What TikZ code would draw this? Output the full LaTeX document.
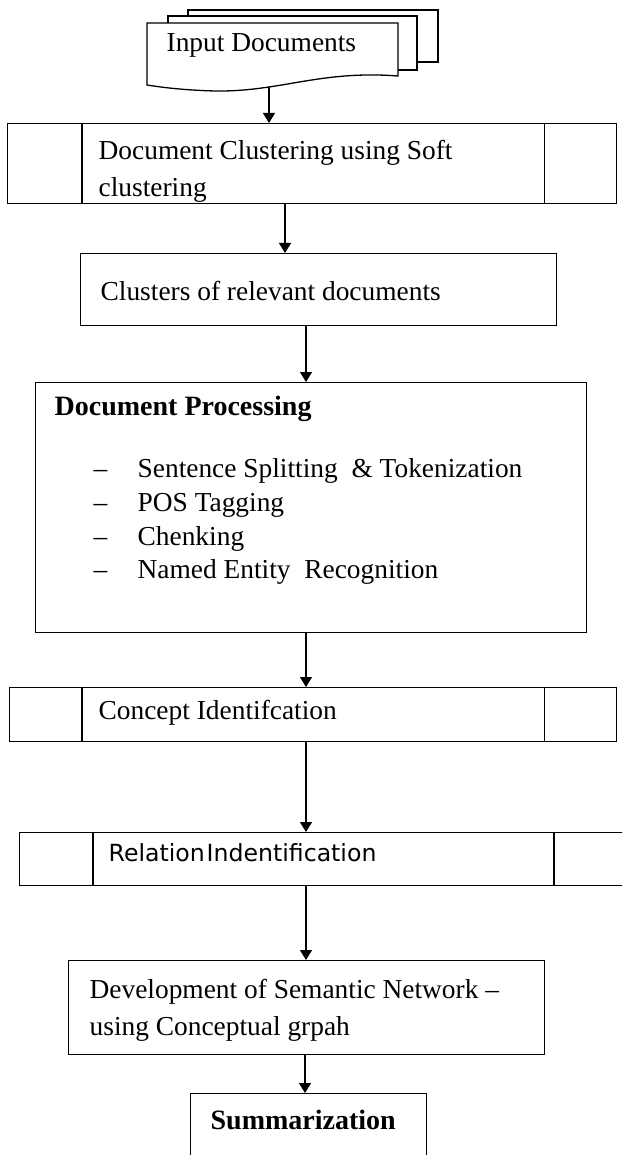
\documentclass[tikz,border=0pt]{standalone}
\usepackage{fontspec}
\setmainfont{Liberation Serif}
\newfontfamily\sansrel{DejaVu Sans}
\usetikzlibrary{arrows.meta}
\begin{document}
\begin{tikzpicture}[x=1pt,y=-1pt,
 line width=1.3pt,
 box/.style={draw, line width=1.3pt, rectangle, inner sep=0pt, anchor=north west},
 txt/.style={anchor=base west, inner sep=0pt, font=\fontsize{27.4}{33}\selectfont},
 btxt/.style={anchor=base west, inner sep=0pt, font=\fontsize{28}{34}\selectfont\bfseries},
 stxt/.style={anchor=base west, inner sep=0pt, font=\sansrel\fontsize{23.6}{28}\selectfont},
 arr/.style={-{Triangle[length=10pt,width=12pt]}, line width=1.3pt},
 docpage/.style={draw, fill=white, line width=1.3pt}]
\useasboundingbox (0,0) rectangle (622,1155);
\fill[white] (0,0) rectangle (622,1155);
\clip (0,0) rectangle (622,1155);

% input documents (multi-document symbol)
\draw[docpage] (188,10) rectangle (438,62);
\draw[docpage] (168,16) rectangle (417,70);
\draw[docpage] (147,23) -- (398,23) -- (398,76)
  .. controls (320,70) and (280,92) .. (215,91)
  .. controls (180,90) and (160,87) .. (147,85) -- cycle;
\node[txt] (input) at (166,52) {Input Documents};
\coordinate (docbot) at (269,87);

% boxes
\node[box, minimum width=609pt, minimum height=80pt] (b1) at (7,123) {};
\node[box, minimum width=476pt, minimum height=72pt] (b2) at (80,253) {};
\node[box, minimum width=551pt, minimum height=250pt] (b3) at (35,382) {};
\node[box, minimum width=607pt, minimum height=54pt] (b4) at (9,687) {};
\node[box, minimum width=612pt, minimum height=53pt] (b5) at (19,832) {};
\node[box, minimum width=476pt, minimum height=94pt] (b6) at (68,960) {};
\node[box, minimum width=236pt, minimum height=75pt] (b7) at (190,1093) {};

% predefined-process side bars
\draw ([xshift=75pt]b1.north west) -- ([xshift=75pt]b1.south west);
\draw ([xshift=-73pt]b1.north east) -- ([xshift=-73pt]b1.south east);
\draw ([xshift=73pt]b4.north west) -- ([xshift=73pt]b4.south west);
\draw ([xshift=-73pt]b4.north east) -- ([xshift=-73pt]b4.south east);
\draw ([xshift=74pt]b5.north west) -- ([xshift=74pt]b5.south west);
\draw ([xshift=535pt]b5.north west) -- ([xshift=535pt]b5.south west);

% texts
\begin{scope}
\clip (b1.north west) rectangle (b1.south east);
\node[txt] (t1a) at (98,160) {Document Clustering using Soft};
\node[txt] (t1b) at (98,197) {clustering};
\end{scope}
\node[txt] (t2) at (100,301) {Clusters of relevant documents};
\node[btxt] (t3) at (54,415) {Document Processing};
\node[txt] (d1) at (93,477) {–};
\node[txt] (i1) at (137,477) {Sentence Splitting~ \& Tokenization};
\node[txt] (d2) at (93,511) {–};
\node[txt] (i2) at (137,511) {POS Tagging};
\node[txt] (d3) at (93,545) {–};
\node[txt] (i3) at (137,545) {Chenking};
\node[txt] (d4) at (93,578) {–};
\node[txt] (i4) at (137,578) {Named Entity~ Recognition};
\node[txt] (t4) at (98,719) {Concept Identifcation};
\node[stxt] (t5) at (108,861) {{\spaceskip=2pt Relation Indentification}};
\node[txt] (t6a) at (89,998) {Development of Semantic Network –};
\node[txt] (t6b) at (89,1035) {using Conceptual grpah};
\node[btxt] (t7) at (210,1129) {Summarization};

% connectors
\coordinate (c2) at (285,0);
\coordinate (c3) at (306,0);
\coordinate (c7) at (305,0);
\draw[arr] (docbot) -- (docbot |- b1.north);
\draw[arr] (c2 |- b1.south) -- (c2 |- b2.north);
\draw[arr] (c3 |- b2.south) -- (c3 |- b3.north);
\draw[arr] (c3 |- b3.south) -- (c3 |- b4.north);
\draw[arr] (c3 |- b4.south) -- (c3 |- b5.north);
\draw[arr] (c3 |- b5.south) -- (c3 |- b6.north);
\draw[arr] (c7 |- b6.south) -- (c7 |- b7.north);
\end{tikzpicture}
\end{document}
